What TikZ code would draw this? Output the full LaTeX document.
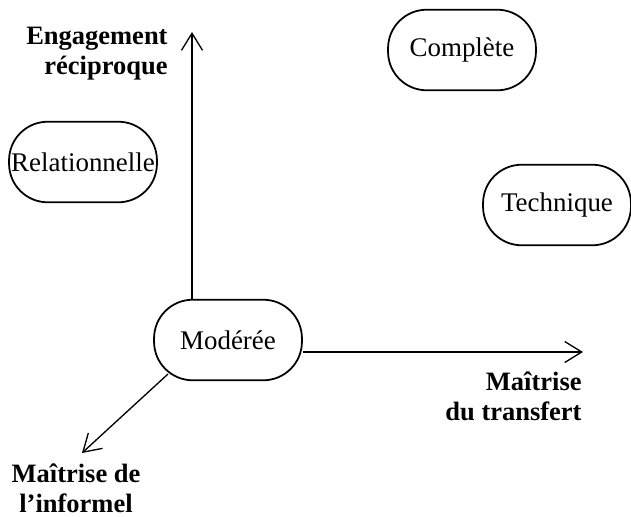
\documentclass[tikz,border=0pt]{standalone}
\usepackage{fontspec}
\setmainfont{Liberation Serif}
\usetikzlibrary{arrows.meta}

\begin{document}
\begin{tikzpicture}[x=0.453pt, y=-0.453pt, font=\fontsize{12.2}{13.6}\selectfont]
    \tikzset{
        phase/.style={draw, line width=0.8pt, rounded corners=17.5pt, minimum width=67pt, minimum height=36.5pt, inner sep=0pt},
        axis/.style={line width=0.6pt, -{Straight Barb[length=7.7pt, width=9.5pt]}},
        axis_label/.style={font=\fontsize{12}{13.6}\selectfont\bfseries, inner sep=0pt}
    }
    \useasboundingbox (0,0) rectangle (631,517);

    % the four profiles
    \node[phase] (Moderee) at (228,340) {Modérée};
    \node[phase] (Relationnelle) at (83,162) {Relationnelle};
    \node[phase] (Complete) at (462,50) {Complète};
    \node[phase] (Technique) at (557,205) {Technique};

    % axes
    \coordinate (V_tip) at (192,32);
    \coordinate (H_tip) at (583,352);
    \coordinate (D_foot) at (168,374);
    \coordinate (D_tip) at (82,453);
    \draw[axis] (Moderee.north -| V_tip) -- (V_tip);
    \draw[axis] (Moderee.east |- H_tip) -- (H_tip);
    \draw[axis] (D_foot) -- (D_tip);

    \node[axis_label, align=right, anchor=north east] (Engagement) at (168,27) {Engagement\\réciproque};
    \node[axis_label, align=right, anchor=north east] (Transfert) at (582,371) {Maîtrise\\du transfert};
    \node[axis_label, align=center, anchor=north] (Informel) at (76,463) {Maîtrise de\\l’informel};

\end{tikzpicture}
\end{document}
